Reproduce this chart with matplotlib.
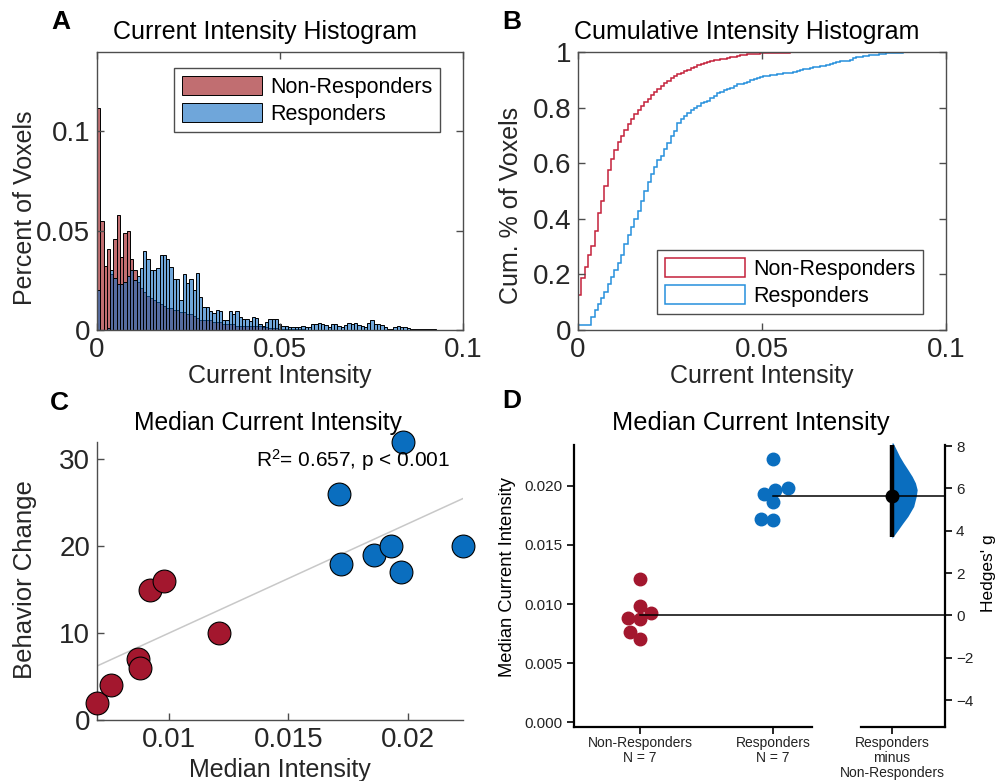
import numpy as np
import matplotlib
matplotlib.use('Agg')
import matplotlib.pyplot as plt
import matplotlib.transforms as mtransforms
from matplotlib.patches import Patch
from matplotlib.lines import Line2D

plt.rcParams['font.family'] = ['Liberation Sans', 'DejaVu Sans']
plt.rcParams['mathtext.default'] = 'regular'

# ---- data ----
bin_w = 0.0009  # histogram bin width (Current Intensity)

nonresp_hist = [0.112, 0.055, 0.032, 0.041, 0.028, 0.046, 0.058, 0.037, 0.049, 0.050, 0.036,
                0.030, 0.024, 0.021, 0.019, 0.017, 0.016, 0.015, 0.014, 0.013, 0.012, 0.011,
                0.011, 0.010, 0.010, 0.009, 0.009, 0.008, 0.008, 0.007, 0.006, 0.005, 0.005,
                0.005, 0.005, 0.004, 0.004, 0.004, 0.003, 0.003, 0.003, 0.003, 0.002, 0.002,
                0.002, 0.002, 0.002, 0.002, 0.002, 0.002, 0.0015, 0.0015, 0.001, 0.001, 0.001,
                0.0005, 0.0005, 0.0004, 0.0004, 0.0003, 0.0003, 0.0003, 0.0003, 0.0002, 0.0002,
                0.0002, 0.0002, 0.0002, 0.0001, 0.0001, 0.0001, 0.0001, 0.0001, 0.0001, 0.0001, 0.0001]

resp_hist = [0.020, 0.0, 0.0, 0.001, 0.030, 0.026, 0.023, 0.023, 0.024, 0.027, 0.030,
             0.0253, 0.027, 0.031, 0.040, 0.036, 0.030, 0.030, 0.031, 0.038, 0.038, 0.0357,
             0.0316, 0.0257, 0.0257, 0.0151, 0.028, 0.0235, 0.0257, 0.020, 0.0289, 0.0164, 0.0114,
             0.0114, 0.0097, 0.0084, 0.010, 0.0095, 0.0051, 0.005, 0.0098, 0.008, 0.0098, 0.0064,
             0.0056, 0.0053, 0.0044, 0.0067, 0.0059, 0.003, 0.0022, 0.0041, 0.0056, 0.0056, 0.0056,
             0.0032, 0.0022, 0.0022, 0.0015, 0.0015, 0.0015, 0.0015, 0.0022, 0.0015, 0.0013, 0.0032,
             0.0032, 0.0037, 0.003, 0.0026, 0.0015, 0.003, 0.0032, 0.0022, 0.0015, 0.0026, 0.0037,
             0.003, 0.0037, 0.0026, 0.0018, 0.0015, 0.0037, 0.0052, 0.0032, 0.003, 0.0026, 0.0015,
             0.0007, 0.0007, 0.0015, 0.0022, 0.0015, 0.0015, 0.0011, 0.0007, 0.0007, 0.0007, 0.0007,
             0.0004, 0.0004, 0.0007, 0.0003]

nonresp_median = [0.0070, 0.0076, 0.0087, 0.0088, 0.0092, 0.0098, 0.0121]
nonresp_behavior = [2, 4, 7, 6, 15, 16, 10]
resp_median = [0.0171, 0.0172, 0.0186, 0.0193, 0.0197, 0.0198, 0.0223]
resp_behavior = [26, 18, 19, 20, 17, 32, 20]

hedges_g = 5.64
hedges_ci = [3.72, 8.07]
boot_g = [3.65, 4.04, 4.36, 4.68, 5.15, 5.62, 5.94, 6.26, 6.57, 6.89, 7.20, 7.52, 7.84, 8.15]
boot_density = [0.0, 0.24, 0.43, 0.63, 0.86, 0.96, 1.0, 0.93, 0.80, 0.63, 0.46, 0.30, 0.17, 0.04]

groups = ['Non-Responders', 'Responders']

# ---- style ----
W, H = 1002, 781
red_bar = (0.60, 0.05, 0.07, 0.6)
blue_bar = (0.06, 0.42, 0.76, 0.6)
red_line = '#c4213a'
blue_line = '#2690dc'
red_dot = '#a3172e'
blue_dot = '#0a6ebf'
spine_c = '#4d4d4d'
text_c = '#262626'


def box(x0, y0, x1, y1):
    return [x0 / W, 1 - y1 / H, (x1 - x0) / W, (y1 - y0) / H]


def ftext(x, y, s, **kw):
    fig.text(x / W, 1 - y / H, s, ha='center', va='center', **kw)


def matlab_axes(ax, xt, yt):
    for s in ax.spines.values():
        s.set_color(spine_c)
        s.set_linewidth(1.0)
    ax.tick_params(direction='in', length=5, width=1, color=spine_c,
                   labelcolor=text_c, labelsize=20)
    ax.set_xticks(xt)
    ax.set_xticklabels([f'{v:g}' for v in xt])
    ax.set_yticks(yt)
    ax.set_yticklabels([f'{v:g}' for v in yt])


def matlab_legend(ax, handles, x0, y0):
    # upper-left corner of the legend box given in figure pixels
    pos = ax.get_position()
    ax_x = (x0 / W - pos.x0) / pos.width
    ax_y = ((1 - y0 / H) - pos.y0) / pos.height
    leg = ax.legend(handles=handles, loc='upper left', bbox_to_anchor=(ax_x, ax_y),
                    borderaxespad=0, fontsize=15.5, handlelength=3.75, handleheight=1.0,
                    labelspacing=0.25, borderpad=0.35, handletextpad=0.35,
                    fancybox=False, framealpha=1)
    leg.get_frame().set_edgecolor(spine_c)
    leg.get_frame().set_linewidth(1.0)


fig = plt.figure(figsize=(W / 100, H / 100), dpi=100)

# ---- A: histogram ----
axA = fig.add_axes(box(97, 52, 463, 330))
bA1 = axA.bar(np.arange(len(nonresp_hist)) * bin_w, nonresp_hist, width=bin_w, align='edge',
              color=red_bar, edgecolor='black', linewidth=0.7, label=groups[0])
bA2 = axA.bar(np.arange(len(resp_hist)) * bin_w, resp_hist, width=bin_w, align='edge',
              color=blue_bar, edgecolor='black', linewidth=0.7, label=groups[1])
axA.set_xlim(0, 0.1)
axA.set_ylim(0, 0.14)
matlab_axes(axA, [0, 0.05, 0.1], [0, 0.05, 0.1])
axA.tick_params(top=True, right=True, pad=5)
matlab_legend(axA, [bA1, bA2], 174, 68)

ftext(265, 32, 'Current Intensity Histogram', fontsize=18)
ftext(280, 376, 'Current Intensity', fontsize=18, color=text_c)
ftext(25, 208, 'Percent of Voxels', fontsize=18, rotation=90, color=text_c)
ftext(61, 22, 'A', fontsize=19, fontweight='bold')

# ---- B: cumulative histogram ----
axB = fig.add_axes(box(578, 52, 946, 330))
cdf_nr = np.cumsum(nonresp_hist) / np.sum(nonresp_hist)
cdf_r = np.cumsum(resp_hist) / np.sum(resp_hist)
axB.stairs(cdf_nr, np.arange(len(cdf_nr) + 1) * bin_w, baseline=None, color=red_line, lw=1.1)
axB.stairs(cdf_r, np.arange(len(cdf_r) + 1) * bin_w, baseline=None, color=blue_line, lw=1.1)
axB.set_xlim(0, 0.1)
axB.set_ylim(0, 1)
matlab_axes(axB, [0, 0.05, 0.1], [0, 0.2, 0.4, 0.6, 0.8, 1])
axB.tick_params(top=True, right=True, pad=5)
hB = [Patch(facecolor='none', edgecolor=red_line, lw=1.1, label=groups[0]),
      Patch(facecolor='none', edgecolor=blue_line, lw=1.1, label=groups[1])]
matlab_legend(axB, hB, 657, 250)

ftext(747, 32, 'Cumulative Intensity Histogram', fontsize=18)
ftext(762, 376, 'Current Intensity', fontsize=18, color=text_c)
ftext(511, 205, 'Cum. % of Voxels', fontsize=18, rotation=90, color=text_c)
ftext(512, 22, 'B', fontsize=19, fontweight='bold')

# ---- C: scatter ----
axC = fig.add_axes(box(97, 442, 463, 720))
x_all = np.array(nonresp_median + resp_median)
y_all = np.array(nonresp_behavior + resp_behavior)
fit = np.polyfit(x_all, y_all, 1)
xl = np.array([x_all.min(), x_all.max()])
axC.plot(xl, np.polyval(fit, xl), color='#c8c8c8', lw=1.1, zorder=1)
axC.scatter(nonresp_median, nonresp_behavior, s=270, color=red_dot, edgecolor='black',
            linewidth=0.8, zorder=3, clip_on=False)
axC.scatter(resp_median, resp_behavior, s=270, color=blue_dot, edgecolor='black',
            linewidth=0.8, zorder=3, clip_on=False)
axC.set_xlim(x_all.min(), x_all.max())
axC.set_ylim(0, 32)
matlab_axes(axC, [0.01, 0.015, 0.02], [0, 10, 20, 30])
axC.spines['top'].set_visible(False)
axC.spines['right'].set_visible(False)
axC.tick_params(pad=5)
axC.text(0.9645, 0.935, 'R$^2$= 0.657, p < 0.001', transform=axC.transAxes,
         ha='right', va='center', fontsize=15)

ftext(268, 423, 'Median Current Intensity', fontsize=17.7)
ftext(280, 770, 'Median Intensity', fontsize=18, color=text_c)
ftext(25, 580, 'Behavior Change', fontsize=18.5, rotation=90, color=text_c)
ftext(59, 403, 'C', fontsize=19, fontweight='bold')

# ---- D: estimation plot ----
raw_x0, raw_x1, top, bot = 574, 812, 445, 727
axR = fig.add_axes(box(raw_x0, top, raw_x1, bot))
axG = fig.add_axes(box(861, top, 945, bot))
xlo, xhi = -0.496, 1.293
ylo, yhi = -0.00042, 0.02347
axR.set_xlim(xlo, xhi)
axR.set_ylim(ylo, yhi)

px_per_y = (bot - top) / (yhi - ylo)
px_per_x = (raw_x1 - raw_x0) / (xhi - xlo)


def swarm_offsets(values, diam):
    placed = []
    offs = np.zeros(len(values))
    for i in np.argsort(values):
        y = values[i] * px_per_y
        cands = [0.0]
        for px, py in placed:
            dy = abs(y - py)
            if dy < diam:
                dx = np.sqrt(diam ** 2 - dy ** 2)
                cands += [px - dx, px + dx]
        for c in sorted(cands, key=lambda c: (abs(c), c)):
            if all((c - px) ** 2 + (y - py) ** 2 >= diam ** 2 - 1e-6 for px, py in placed):
                offs[i] = c
                break
        placed.append((offs[i], y))
    return offs / px_per_x


for k, (vals, col) in enumerate([(nonresp_median, red_dot), (resp_median, blue_dot)]):
    v = np.array(vals)
    axR.plot(k + swarm_offsets(v, 12.5), v, 'o', ms=9, color=col, mec=col, lw=0)

for s in ['top', 'right']:
    axR.spines[s].set_visible(False)
for s in ['left', 'bottom']:
    axR.spines[s].set_linewidth(1.6)
axR.set_yticks([0, 0.005, 0.01, 0.015, 0.02])
axR.set_yticklabels([f'{v:.3f}' for v in [0, 0.005, 0.01, 0.015, 0.02]])
axR.set_xticks([0, 1])
axR.set_xticklabels([f'{g}\nN = {len(nonresp_median)}' for g in groups])
axR.tick_params(axis='y', length=5, width=1.2, labelsize=11, labelcolor='#222222', pad=3)
axR.tick_params(axis='x', length=5, width=1.2, labelsize=10, labelcolor='#222222', pad=1.5)

# effect-size axis, aligned with group means
m_nr, m_r = np.mean(nonresp_median), np.mean(resp_median)
g_per_raw = hedges_g / (m_r - m_nr)
axG.set_ylim((ylo - m_nr) * g_per_raw, (yhi - m_nr) * g_per_raw)
axG.set_xlim(-0.369, 0.631)
axG.fill_betweenx(boot_g, 0, np.array(boot_density) * 0.30, color=blue_dot, lw=0, clip_on=False)
axG.plot([0, 0], hedges_ci, color='black', lw=3.2, solid_capstyle='butt')
axG.plot(0, hedges_g, 'o', ms=9, color='black')
axG.spines['left'].set_visible(False)
axG.spines['top'].set_visible(False)
for s in ['right', 'bottom']:
    axG.spines[s].set_linewidth(1.6)
axG.yaxis.tick_right()
gt = [-4, -2, 0, 2, 4, 6, 8]
axG.set_yticks(gt)
axG.set_yticklabels([f'{v}'.replace('-', '\u2212') for v in gt])
axG.set_xticks([0])
axG.set_xticklabels([f'{groups[1]}\nminus\n{groups[0]}'])
axG.tick_params(axis='y', length=5, width=1.2, labelsize=11, labelcolor='#222222', pad=3)
axG.tick_params(axis='x', length=5, width=1.2, labelsize=10, labelcolor='#222222', pad=1.5)
for lab in axR.get_xticklabels() + axG.get_xticklabels():
    lab.set_linespacing(1.1)

# mean reference lines running to the effect-size axis
tr = mtransforms.blended_transform_factory(fig.transFigure, axR.transData)
x_end = 945 / W
for k, m in enumerate([m_nr, m_r]):
    x_start = (raw_x0 + (k - xlo) * px_per_x) / W
    fig.add_artist(Line2D([x_start, x_end], [m, m], transform=tr, color='black', lw=1.1))

ftext(751, 423, 'Median Current Intensity', fontsize=18.3)
ftext(507, 577, 'Median Current Intensity', fontsize=13.2, rotation=90)
ftext(988, 573, "Hedges' g", fontsize=12.5, rotation=90)
ftext(512, 401, 'D', fontsize=19, fontweight='bold')

fig.savefig('out.png', dpi=100)
